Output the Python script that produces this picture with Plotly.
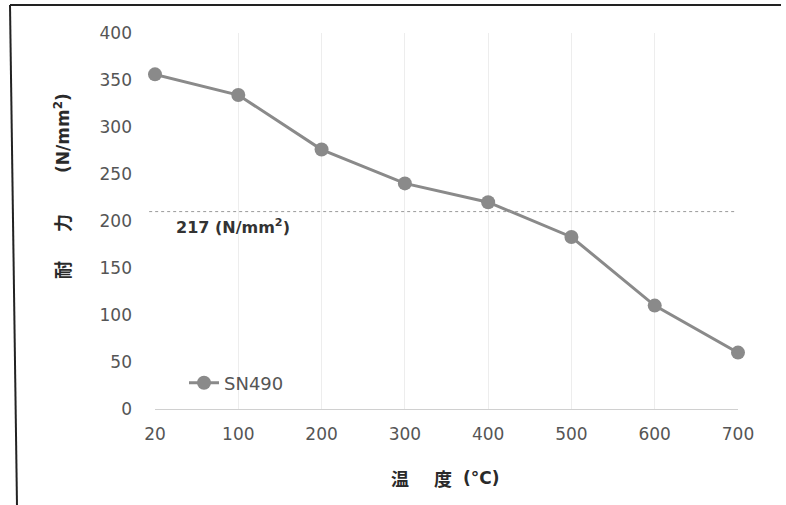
import plotly.graph_objects as go

temperatures = ["20", "100", "200", "300", "400", "500", "600", "700"]
strength_sn490 = [356, 334, 276, 240, 220, 183, 110, 60]
y_ticks = [0, 50, 100, 150, 200, 250, 300, 350, 400]
threshold_value = 210
threshold_label = "217 (N/mm<sup>2</sup>)"
series_name = "SN490"
x_title_parts = ["温", "度", "(°C)"]
y_title_parts = ["耐", "力", "(N/mm<sup>2</sup>)"]

W, H = 786, 505
L, R, T, B = 155, 48, 33, 96
pw, ph = W - L - R, H - T - B

def px(X):
    return (X - L) / pw

def py(Y):
    return (H - B - Y) / ph

fig = go.Figure()
fig.add_trace(go.Scatter(
    x=temperatures, y=strength_sn490, name=series_name,
    mode="lines+markers",
    line=dict(color="#8a8a8a", width=3),
    marker=dict(color="#8a8a8a", size=14),
    cliponaxis=False,
))

fig.add_shape(type="line", xref="paper", yref="y", x0=-0.01, x1=0.995,
              y0=threshold_value, y1=threshold_value,
              line=dict(color="#9a9a9a", width=1, dash="dot"))
fig.add_annotation(text=threshold_label, xref="paper", yref="y",
                   x=px(174), y=threshold_value, xanchor="left", yanchor="middle",
                   yshift=-15, showarrow=False,
                   font=dict(family="DejaVu Sans", size=16, color="#333333", weight="bold"))

# frame of the scanned page
fig.add_shape(type="line", xref="paper", yref="paper", x0=px(10), y0=py(5), x1=px(781), y1=py(5),
              line=dict(color="#222222", width=2))
fig.add_shape(type="line", xref="paper", yref="paper", x0=px(10), y0=py(5), x1=px(17), y1=py(505),
              line=dict(color="#222222", width=2))

title_font_cjk = dict(family="Noto Sans CJK JP", size=18, color="#2a2a2a", weight="bold")
title_font_lat = dict(family="DejaVu Sans", size=17, color="#2a2a2a", weight="bold")

# y-axis title pieces (rotated)
for txt, yc, f in zip(y_title_parts, [270, 223, 133], [title_font_cjk, title_font_cjk, title_font_lat]):
    fig.add_annotation(text=txt, xref="paper", yref="paper", x=px(62), y=py(yc),
                       textangle=-90, showarrow=False, xanchor="center", yanchor="middle", font=f)
# x-axis title pieces
for txt, xc, f in zip(x_title_parts, [400, 443, 481], [title_font_cjk, title_font_cjk, title_font_lat]):
    fig.add_annotation(text=txt, xref="paper", yref="paper", x=px(xc), y=py(478),
                       showarrow=False, xanchor="center", yanchor="middle", font=f)

fig.update_layout(
    width=W, height=H,
    margin=dict(l=L, r=R, t=T, b=B),
    paper_bgcolor="white", plot_bgcolor="white",
    showlegend=True,
    legend=dict(x=px(184), y=py(383), xanchor="left", yanchor="middle",
                bgcolor="rgba(0,0,0,0)", itemwidth=30,
                font=dict(family="DejaVu Sans", size=18, color="#555555")),
)
fig.update_xaxes(type="category", range=[0, 7], showgrid=True, gridcolor="#ededed",
                 showline=True, linecolor="#d0d0d0", linewidth=1,
                 ticks="", ticklabelstandoff=10,
                 tickfont=dict(family="DejaVu Sans", size=17, color="#555555"))
fig.update_yaxes(range=[0, 400], tickvals=y_ticks, showgrid=False, zeroline=False,
                 showline=False, ticks="", ticklabelstandoff=22,
                 tickfont=dict(family="DejaVu Sans", size=17, color="#555555"))

fig.write_html("out.html", post_script="document.body.style.margin='0';",
               config={"displayModeBar": False})
